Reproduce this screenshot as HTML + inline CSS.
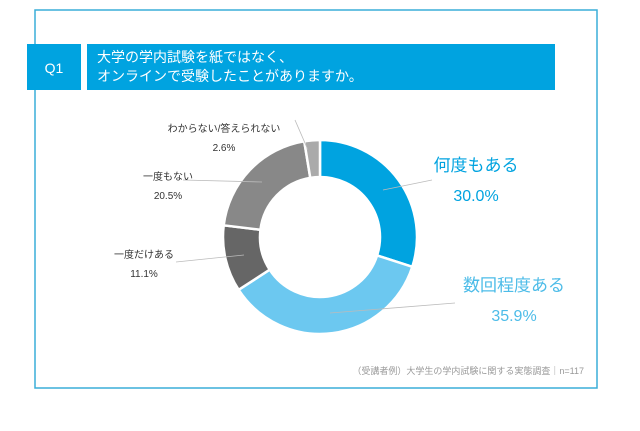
<!DOCTYPE html>
<html><head><meta charset="utf-8"><style>
body{margin:0;width:640px;height:426px;background:#fff;overflow:hidden;font-family:"Liberation Sans","Noto Sans CJK JP",sans-serif;}
</style></head><body>
<svg width="640" height="426" viewBox="0 0 640 426" xmlns="http://www.w3.org/2000/svg" font-family="Liberation Sans, Noto Sans CJK JP, sans-serif">
<rect x="35" y="10" width="562" height="378" fill="#fff" stroke="#3aaed8" stroke-width="1.5"/>
<rect x="27" y="44" width="54" height="46" fill="#00a3e0"/>
<text x="54" y="73" font-size="14" fill="#fff" text-anchor="middle">Q1</text>
<rect x="87" y="44" width="468" height="46" fill="#00a3e0"/>
<text x="97" y="62" font-size="14" fill="#fff">大学の学内試験を紙ではなく、</text>
<text x="97" y="81" font-size="14" fill="#fff">オンラインで受験したことがありますか。</text>
<g stroke="#fff" stroke-width="2">
<path id="d" d="" fill="none"/>
</g>
<g id="donut" stroke="#fff" stroke-width="2.5"></g>
<g stroke="#bbb" stroke-width="0.8" fill="none">
<line x1="295" y1="120" x2="308" y2="150"/>
<line x1="183" y1="180" x2="262" y2="182"/>
<line x1="176" y1="262" x2="244" y2="255"/>
<line x1="383" y1="190" x2="432" y2="180"/>
<line x1="330" y1="313" x2="455" y2="303"/>
</g>
<text x="224" y="132" font-size="10" fill="#333" text-anchor="middle">わからない/答えられない</text>
<text x="224" y="151" font-size="10" fill="#333" text-anchor="middle">2.6%</text>
<text x="168" y="180" font-size="10" fill="#333" text-anchor="middle">一度もない</text>
<text x="168" y="199" font-size="10" fill="#333" text-anchor="middle">20.5%</text>
<text x="144" y="258" font-size="10" fill="#333" text-anchor="middle">一度だけある</text>
<text x="144" y="277" font-size="10" fill="#333" text-anchor="middle">11.1%</text>
<text x="476" y="171" font-size="17" fill="#00a3e0" text-anchor="middle">何度もある</text>
<text x="476" y="201" font-size="16" fill="#00a3e0" text-anchor="middle">30.0%</text>
<text x="514" y="291" font-size="17" fill="#4dbce8" text-anchor="middle">数回程度ある</text>
<text x="514" y="321" font-size="16" fill="#4dbce8" text-anchor="middle">35.9%</text>
<text x="584" y="374" font-size="9" fill="#999" text-anchor="end">（受講者例）大学生の学内試験に関する実態調査｜n=117</text>
</svg>
<script>
var cx=320,cy=237,R=97,r=60;
var d=[[30.0,"#00a3e0"],[35.9,"#6cc8f0"],[11.1,"#666666"],[20.5,"#888888"],[2.6,"#aaaaaa"]];
var tot=100.1,a=0,g=document.getElementById("donut"),s="";
function p(rad,ang){return [cx+rad*Math.sin(ang),cy-rad*Math.cos(ang)];}
d.forEach(function(x){var a0=a/tot*2*Math.PI;a+=x[0];var a1=a/tot*2*Math.PI;var L=(a1-a0)>Math.PI?1:0;
var o0=p(R,a0),o1=p(R,a1),i1=p(r,a1),i0=p(r,a0);
s+='<path fill="'+x[1]+'" d="M'+o0+' A'+R+' '+R+' 0 '+L+' 1 '+o1+' L'+i1+' A'+r+' '+r+' 0 '+L+' 0 '+i0+' Z"/>';});
g.innerHTML=s;
</script>
</body></html>
